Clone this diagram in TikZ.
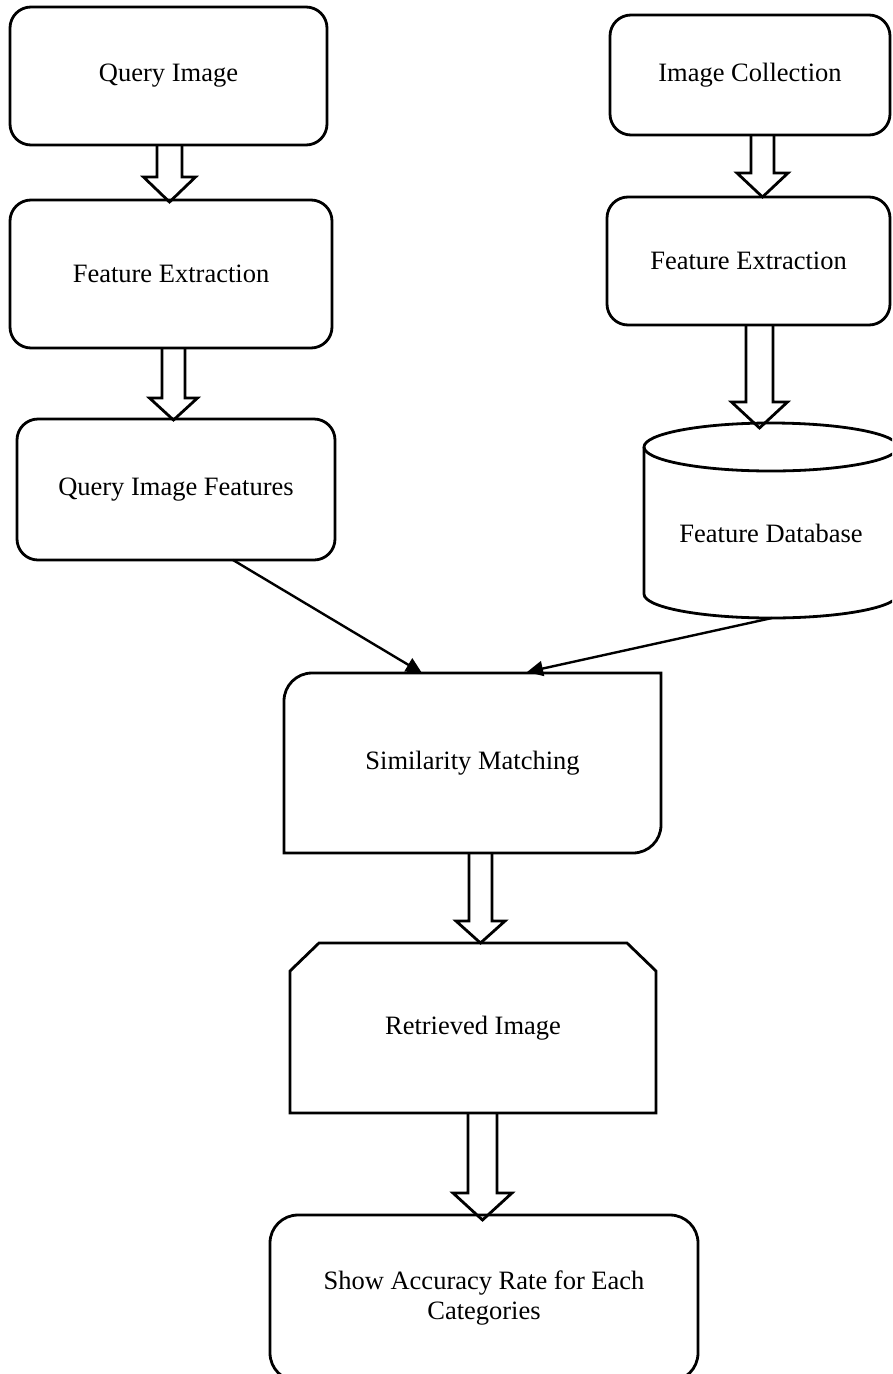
\documentclass[tikz,border=0pt]{standalone}
\usepackage{fontspec}
\setmainfont{Liberation Serif}
\usetikzlibrary{arrows.meta,calc}

\tikzset{
  x=1pt, y=1pt,
  label font/.style={font=\fontsize{26.5}{30}\selectfont, align=center},
  box/.style={draw, line width=2.8pt, rounded corners=21pt, outer sep=0pt, inner sep=0pt, label font},
  frame/.style={outer sep=0pt, inner sep=0pt, label font},
  border/.style={line width=2.8pt},
  % hollow block arrow: half shaft width, half head width, head length
  hollow/.style n args={3}{to path={
      let \p1=(\tikztostart), \p2=(\tikztotarget) in
      (\x2-#1,\y1) -- (\x2-#1,\y2+#3) -- (\x2-#2,\y2+#3) -- (\x2,\y2)
      -- (\x2+#2,\y2+#3) -- (\x2+#1,\y2+#3) -- (\x2+#1,\y1)}},
  link/.style={line width=2.4pt, -{Triangle[length=16pt,width=15pt]}},
}

\begin{document}
\begin{tikzpicture}
\useasboundingbox (0,0) rectangle (892,-1374);
\clip (0,0) rectangle (892,-1374);

% left column
\node[box, minimum width=317pt, minimum height=138pt] (qi)  at (168.5,-76)   {Query Image};
\node[box, minimum width=322pt, minimum height=148pt] (fe1) at (171,-274)    {Feature Extraction};
\node[box, minimum width=318pt, minimum height=141pt] (qif) at (176,-489.5)  {Query Image Features};

% right column
\node[box, minimum width=280pt, minimum height=120pt] (ic)  at (750,-75)     {Image Collection};
\node[box, minimum width=283pt, minimum height=128pt] (fe2) at (748.5,-261)  {Feature Extraction};
\node[frame, minimum width=254pt, minimum height=195pt] (db) at (771,-520.5) {};
\node[frame] (dbtext) at ([yshift=-12.5pt]db.center) {Feature Database};

% database cylinder
\draw[border] ([yshift=-24pt]db.north) ellipse [x radius=127pt, y radius=24pt];
\draw[border] ([yshift=-24pt]db.north west) -- ([yshift=24pt]db.south west)
  arc[start angle=180, end angle=360, x radius=127pt, y radius=24pt]
  -- ([yshift=-24pt]db.north east);

% lower column
\node[frame, minimum width=377pt, minimum height=180pt] (sm) at (472.5,-763) {Similarity Matching};
\draw[border] (sm.south west) -- ([yshift=-28pt]sm.north west)
  arc[start angle=180, end angle=90, radius=28pt] -- (sm.north east)
  -- ([yshift=28pt]sm.south east)
  arc[start angle=0, end angle=-90, radius=28pt] -- cycle;

\node[frame, minimum width=366pt, minimum height=170pt] (ri) at (473,-1028) {Retrieved Image};
\draw[border] (ri.south west) -- ([yshift=-28pt]ri.north west) -- ([xshift=29pt]ri.north west)
  -- ([xshift=-29pt]ri.north east) -- ([yshift=-28pt]ri.north east) -- (ri.south east) -- cycle;

\node[box, rounded corners=28pt, minimum width=428pt, minimum height=166pt] (sa) at (484,-1298)
  {Show Accuracy Rate for Each\\Categories};

% block arrows
\draw[border] (qi.south)  to[hollow={12.5pt}{26pt}{25pt}]   ([xshift=-1.5pt,yshift=-2pt]fe1.north);
\draw[border] (fe1.south) to[hollow={11.5pt}{24pt}{22pt}]   ([xshift=-2.5pt,yshift=-1pt]qif.north);
\draw[border] (ic.south)  to[hollow={11.5pt}{25.5pt}{24pt}] ([xshift=14pt]fe2.north);
\draw[border] (fe2.south) to[hollow={13.5pt}{28pt}{26pt}]   ([xshift=-11.5pt,yshift=-5pt]db.north);
\draw[border] (sm.south)  to[hollow={11.5pt}{24.5pt}{22pt}] ([xshift=7.5pt]ri.north);
\draw[border] (ri.south)  to[hollow={14.5pt}{29.5pt}{27pt}] ([xshift=-1.5pt,yshift=-5pt]sa.north);

% matching inputs
\draw[link] ([xshift=57pt]qif.south) -- ([xshift=-50.5pt]sm.north);
\draw[link] ([xshift=1pt]db.south) -- ([xshift=54.5pt,yshift=1pt]sm.north);
\end{tikzpicture}
\end{document}
